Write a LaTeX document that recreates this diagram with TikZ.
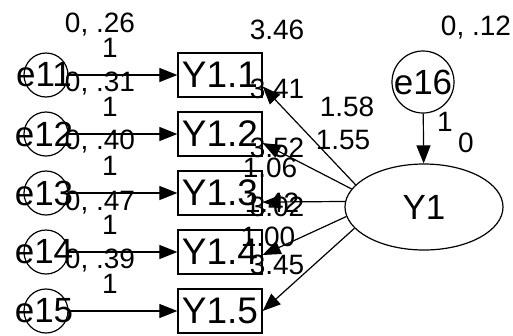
\documentclass[tikz,border=0pt]{standalone}
\usepackage{fontspec}
\setmainfont{Liberation Sans}
\usetikzlibrary{arrows.meta,shapes.geometric}
\begin{document}
\begin{tikzpicture}[x=1pt,y=-1pt,
  obs/.style={draw, line width=1.3pt, minimum width=84pt, minimum height=44pt, inner sep=0pt, font=\fontsize{37}{37}\selectfont},
  err/.style={draw, circle, line width=1.2pt, minimum size=44pt, inner sep=0pt},
  etext/.style={font=\fontsize{35}{35}\selectfont, inner sep=0pt},
  lab/.style={font=\fontsize{28}{28}\selectfont, inner sep=0pt},
  arr/.style={line width=1.2pt, -{Triangle[length=18pt,width=14pt]}},
]
\fill[white] (0,0) rectangle (513,335);
\useasboundingbox (0,0) rectangle (513,335);

% error circles and observed boxes
\foreach \i/\r in {1/75,2/134,3/193,4/252,5/311}{
  \node[err] (e1\i) at (46,\r) {};
  \node[etext] (te1\i) at (44,\r) {e1\i};
  \node[obs] (Y\i) at (220,\r) {Y1.\i};
  \draw[arr] (e1\i) -- (Y\i);
  \node[lab] (one\i) at (110,\r-27) {1};
}

% variance labels
\node[lab] (v1) at (100,25) {0, .26};
\node[lab] (v2) at (100,84) {0, .31};
\node[lab] (v3) at (100,142) {0, .40};
\node[lab] (v4) at (100,203) {0, .47};
\node[lab] (v5) at (100,261) {0, .39};

% latent
\node[draw, ellipse, line width=1.2pt, minimum width=158pt, minimum height=86pt, inner sep=0pt, font=\fontsize{35}{35}\selectfont] (F) at (424,207) {Y1};
\node[err, minimum size=62pt] (e16) at (423,82) {};
\node[etext] (te16) at (423,82) {e16};
\draw[arr] (e16) -- (F);
\node[lab] (o16) at (445,122) {1};
\node[lab] (z16) at (466,143) {0};
\node[lab] (v16) at (476,28) {0, .12};

% loadings
\draw[arr] (F.162) -- (Y1.-15);
\draw[arr] (F.166) -- (Y2.-12);
\draw[arr] (F.176) -- (Y3.-12);
\draw[arr] (F.187) -- (Y4.-4);
\draw[arr] (F.197) -- (Y5.0);

% intercepts
\node[lab] (i1) at (277,30) {3.46};
\node[lab] (i2) at (277,89) {3.41};
\node[lab] (i3) at (277,148) {3.52};
\node[lab] (i4) at (277,207) {3.02};
\node[lab] (i5) at (277,265) {3.45};

% loading labels
\node[lab] (l1) at (347,107) {1.58};
\node[lab] (l2) at (343,140) {1.55};
\node[lab] (l3) at (270,168) {1.06};
\node[lab] (l4) at (272,203) {1.42};
\node[lab] (l5) at (268,237) {1.00};
\end{tikzpicture}
\end{document}
